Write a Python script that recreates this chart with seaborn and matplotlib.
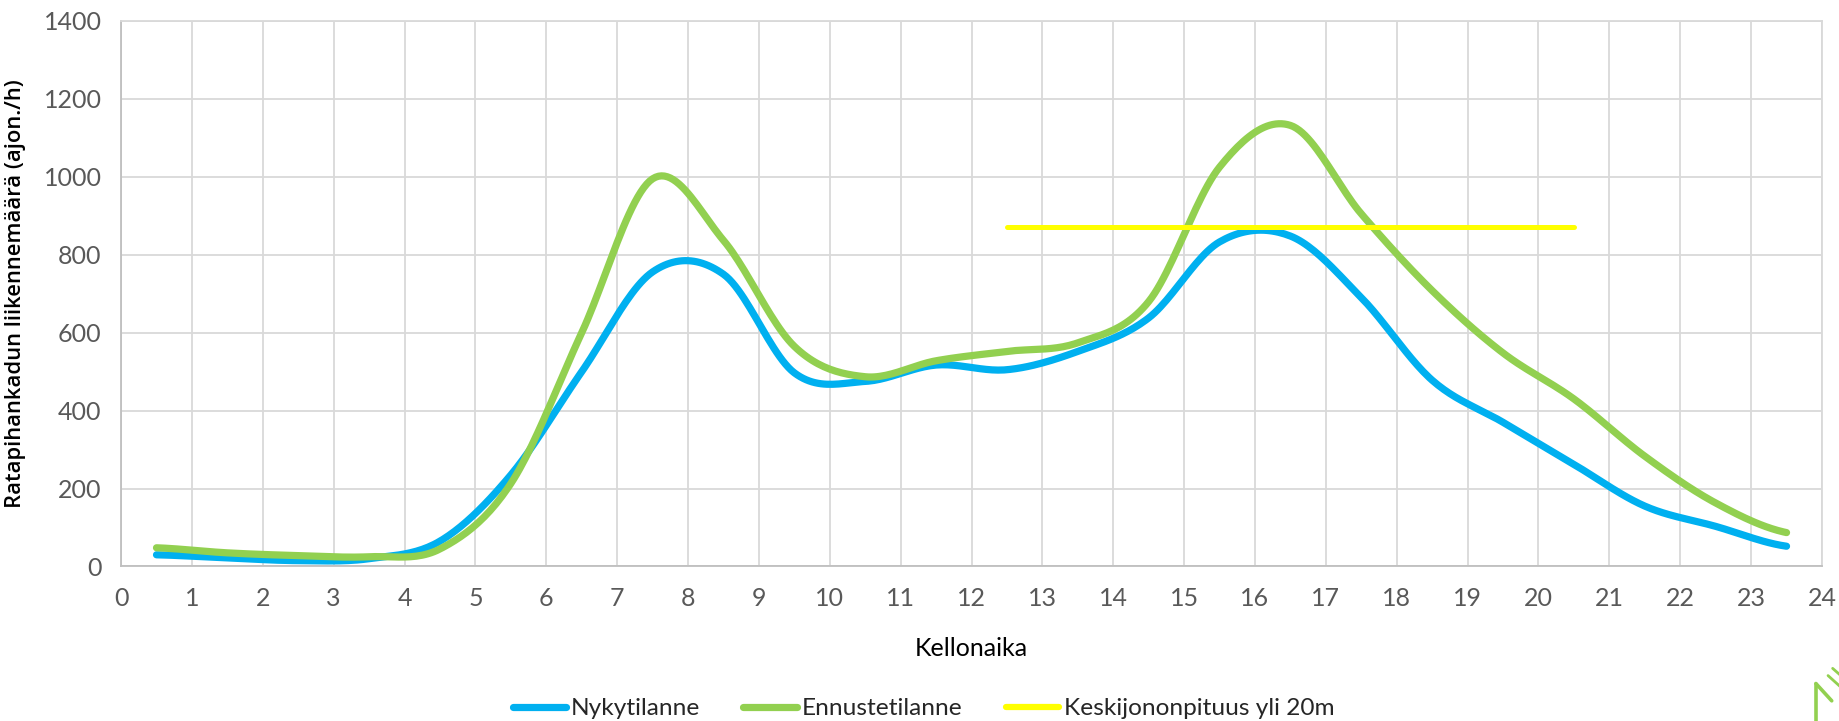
import numpy as np
import pandas as pd
import matplotlib
matplotlib.use("Agg")
import matplotlib.pyplot as plt
from matplotlib.lines import Line2D
import seaborn as sns

# Hourly traffic volumes (vehicles/h), plotted at the middle of each hour
hours = [h + 0.5 for h in range(24)]
nykytilanne = [30, 22, 15, 20, 65, 235, 500, 756, 750, 497, 475, 517,
               505, 552, 638, 833, 848, 690, 478, 370, 262, 155, 103, 52]
ennustetilanne = [48, 35, 28, 25, 45, 213, 600, 995, 837, 565, 487, 528,
                  552, 574, 680, 1025, 1132, 905, 708, 548, 430, 283, 163, 87]
# Average queue length over 20 m, 12:30-20:30
jono_hours = [h + 0.5 for h in range(12, 21)]
jono = [870] * len(jono_hours)

x_ticks = list(range(0, 25))
y_ticks = list(range(0, 1401, 200))

series_names = ["Nykytilanne", "Ennustetilanne", "Keskijononpituus yli 20m"]
colors = {"Nykytilanne": "#00B0F0", "Ennustetilanne": "#92D050",
          "Keskijononpituus yli 20m": "#FFFF00"}
widths = {"Nykytilanne": 5.2, "Ennustetilanne": 5.2, "Keskijononpituus yli 20m": 3.6}


def smooth(xs, ys, n=24):
    """Catmull-Rom smoothing through the given points."""
    xs = np.asarray(xs, float)
    ys = np.asarray(ys, float)
    px = np.concatenate([[2 * xs[0] - xs[1]], xs, [2 * xs[-1] - xs[-2]]])
    py = np.concatenate([[ys[0]], ys, [ys[-1]]])
    ox, oy = [], []
    for i in range(1, len(px) - 2):
        t = np.linspace(0, 1, n, endpoint=False)
        for p, out in ((px, ox), (py, oy)):
            p0, p1, p2, p3 = p[i - 1], p[i], p[i + 1], p[i + 2]
            m1 = (p2 - p0) / 2
            m2 = (p3 - p1) / 2
            h00 = 2 * t**3 - 3 * t**2 + 1
            h10 = t**3 - 2 * t**2 + t
            h01 = -2 * t**3 + 3 * t**2
            h11 = t**3 - t**2
            out.extend(h00 * p1 + h10 * m1 + h01 * p2 + h11 * m2)
    ox.append(xs[-1])
    oy.append(ys[-1])
    return np.array(ox), np.array(oy)


frames = []
for name, xs, ys in ((series_names[0], hours, nykytilanne),
                     (series_names[1], hours, ennustetilanne),
                     (series_names[2], jono_hours, jono)):
    sx, sy = smooth(xs, ys)
    frames.append(pd.DataFrame({"Kellonaika": sx, "arvo": sy, "sarja": name}))
df = pd.concat(frames, ignore_index=True)

sns.set_theme(style="white")
plt.rcParams["font.family"] = ["Lato", "DejaVu Sans"]

fig = plt.figure(figsize=(18.4, 7.21), dpi=100)
ax = fig.add_axes([0.0658, 0.2143, 0.9244, 0.7566])

for name in series_names:
    sub = df[df["sarja"] == name]
    sns.lineplot(data=sub, x="Kellonaika", y="arvo", ax=ax, color=colors[name],
                 linewidth=widths[name], solid_capstyle="round", sort=False,
                 estimator=None, legend=False, zorder=3)

ax.set_xlim(0, 24)
ax.set_ylim(0, 1400)
ax.set_xticks(x_ticks)
ax.set_yticks(y_ticks)
ax.grid(True, color="#D9D9D9", linewidth=1.3, zorder=0)
ax.set_axisbelow(True)
for side in ("top", "right"):
    ax.spines[side].set_visible(True)
    ax.spines[side].set_color("#D9D9D9")
    ax.spines[side].set_linewidth(1.3)
for side in ("left", "bottom"):
    ax.spines[side].set_color("#BFBFBF")
    ax.spines[side].set_linewidth(1.3)

ax.tick_params(axis="both", length=0, labelsize=18, labelcolor="#595959")
ax.tick_params(axis="x", pad=15)
ax.tick_params(axis="y", pad=14)

ax.set_xlabel("Kellonaika", fontsize=18, color="black")
ax.xaxis.set_label_coords(0.5, -0.129)
ax.set_ylabel("Ratapihankadun liikennemäärä (ajon./h)", fontsize=15.8,
              fontweight="semibold", color="black", family=["Open Sans", "DejaVu Sans"])
ax.yaxis.set_label_coords(-0.0560, 0.5)

handles = [Line2D([], [], color=colors[n], linewidth=widths[n] if n != series_names[2] else 4.5,
                  solid_capstyle="round") for n in series_names]
fig.legend(handles, series_names, loc="center", bbox_to_anchor=(0.502, 0.017),
           ncol=3, frameon=False, fontsize=17.6, handlelength=2.2, handletextpad=0.2,
           columnspacing=1.75, borderaxespad=0)

# Corner logo fragment
logo = "#92D050"
fig.add_artist(Line2D([0.9869, 0.9869], [0.0, 0.052], transform=fig.transFigure,
                      color=logo, linewidth=2.6))
fig.add_artist(Line2D([0.9869, 0.9955], [0.052, 0.028], transform=fig.transFigure,
                      color=logo, linewidth=2.6))
fig.add_artist(Line2D([0.9935, 1.0], [0.063, 0.048], transform=fig.transFigure,
                      color=logo, linewidth=2.0))
fig.add_artist(Line2D([0.9960, 1.0], [0.073, 0.064], transform=fig.transFigure,
                      color=logo, linewidth=2.0))

fig.savefig("out.png", dpi=100, facecolor="white")
